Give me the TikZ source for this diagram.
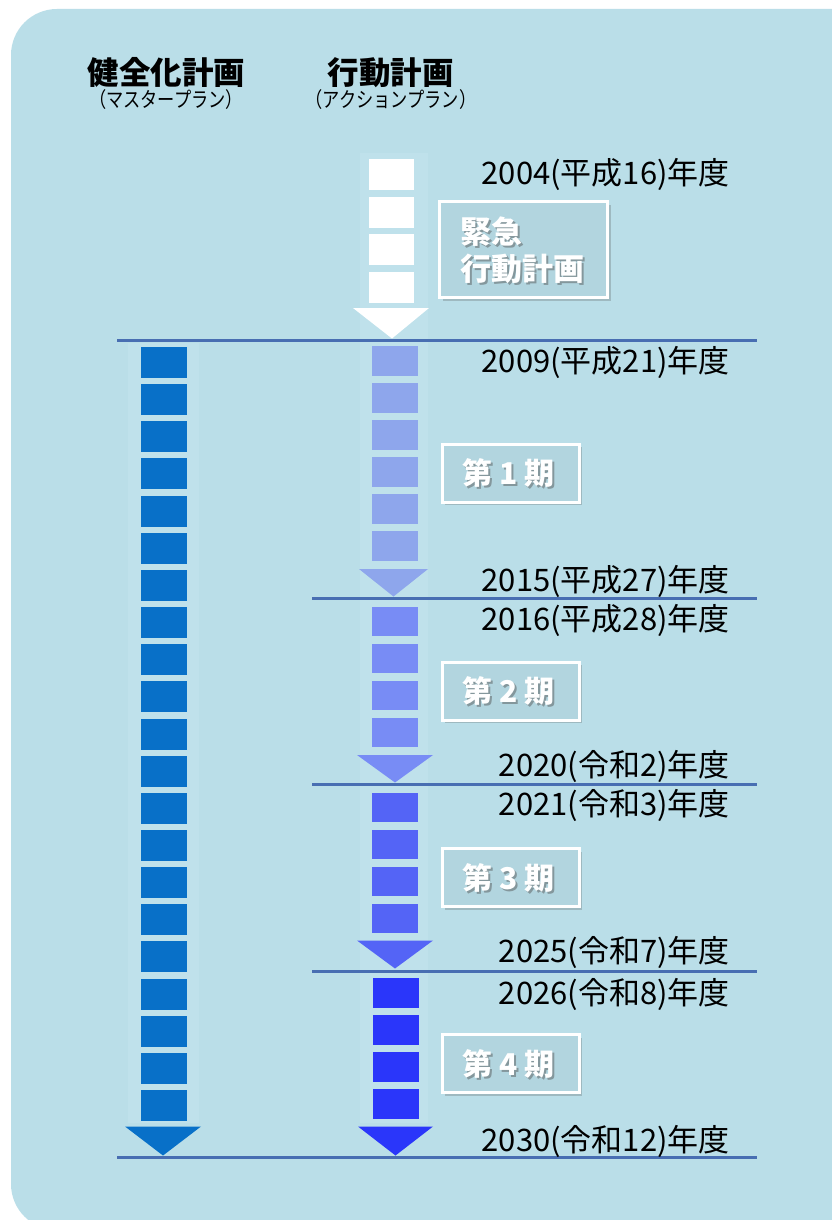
\documentclass[tikz,border=0pt]{standalone}
\usepackage{fontspec}
\newfontfamily\jp{Noto Sans CJK JP}
\usetikzlibrary{shadows}
\definecolor{bgblue}{RGB}{186,222,232}
\definecolor{glow}{RGB}{196,229,238}
\definecolor{mblue}{RGB}{8,112,200}
\definecolor{ph1}{RGB}{142,166,236}
\definecolor{ph2}{RGB}{120,140,245}
\definecolor{ph3}{RGB}{84,100,246}
\definecolor{ph4}{RGB}{42,54,250}
\definecolor{linecol}{RGB}{72,110,178}
\definecolor{boxfill}{RGB}{178,213,223}
\begin{document}
\begin{tikzpicture}[x=1pt,y=-1pt,
  blk/.style={rectangle,inner sep=0pt,draw=none,minimum width=46pt},
  yearlabel/.style={anchor=east,inner sep=0pt,font=\jp\fontsize{31}{36}\selectfont},
  head/.style={inner sep=0pt,font=\jp\bfseries\fontsize{31.5}{36}\selectfont},
  subhead/.style={inner sep=0pt,font=\jp\fontsize{21}{24}\selectfont},
  phasebox/.style={rectangle,inner sep=0pt,draw=white,line width=3pt,fill=boxfill,
     drop shadow={shadow xshift=3pt,shadow yshift=-3pt,opacity=0.25,fill=black!70}},
  ptext/.style={inner sep=0pt,text=white,font=\jp\bfseries\fontsize{#1}{36}\selectfont},
  ptext/.default=30,
  pshadow/.style={inner sep=0pt,text=black!70,opacity=0.45,font=\jp\bfseries\fontsize{#1}{36}\selectfont},
  pshadow/.default=30,
  sepline/.style={draw=linecol,line width=3pt}]
\useasboundingbox (0,0) rectangle (831,1220);
\fill[white] (0,0) rectangle (831,1220);
\fill[bgblue,rounded corners=46pt] (11,9) rectangle (890,1230);
% glow strips
\fill[glow,opacity=0.5] (128,343) rectangle (199,1123);
\fill[glow,opacity=0.5] (360,153) rectangle (428,1123);
% headers
\node[head] (h1) at (166.5,72.5) {健全化計画};
\node[subhead] (s1) at (166,100) {\scalebox{0.82}[1]{（マスタープラン）}};
\node[head] (h2) at (390.5,72.5) {行動計画};
\node[subhead] (s2) at (391,100) {\scalebox{0.82}[1]{（アクションプラン）}};
% master plan column
\foreach \i in {0,...,20}
  \node[blk,fill=mblue,minimum height=31pt] (m\i) at (163.5,{347+37.15*\i+15.5}) {};
\fill[mblue] (125,1126.5) -- (201,1126.5) -- (163,1155.5) -- cycle;
% emergency plan (white)
\foreach \i/\t in {0/159,1/197,2/234,3/272}
  \node[blk,fill=white,minimum width=45pt,minimum height=31pt] (e\i) at (391.5,\t+15.5) {};
\fill[white] (353,308) -- (429,308) -- (392,338.5) -- cycle;
% phase 1
\foreach \i/\t in {0/346,1/383,2/420,3/457,4/494,5/531}
  \node[blk,fill=ph1,minimum height=30pt] (a\i) at (394.5,\t+15) {};
\fill[ph1] (359,569) -- (428,569) -- (393.5,596.5) -- cycle;
% phase 2
\foreach \i/\t in {0/606.5,1/643.5,2/680.5,3/717.5}
  \node[blk,fill=ph2,minimum height=29.5pt] (b\i) at (394.5,\t+14.75) {};
\fill[ph2] (357,755) -- (433,755) -- (395,782.5) -- cycle;
% phase 3
\foreach \i/\t in {0/792.5,1/829.5,2/866.5,3/903.5}
  \node[blk,fill=ph3,minimum height=29.5pt] (c\i) at (395,\t+14.75) {};
\fill[ph3] (357,940.5) -- (433,940.5) -- (395,968.5) -- cycle;
% phase 4
\foreach \i/\t in {0/978,1/1015,2/1052,3/1089}
  \node[blk,fill=ph4,minimum height=29.5pt] (d\i) at (395.5,\t+14.75) {};
\fill[ph4] (358,1126.5) -- (433,1126.5) -- (395.5,1155.5) -- cycle;
% separator lines
\coordinate (l0a) at (117,340); \coordinate (l0b) at (757,340);
\coordinate (l1a) at (312,598); \coordinate (l1b) at (757,598);
\coordinate (l2a) at (312,784.5); \coordinate (l2b) at (757,784.5);
\coordinate (l3a) at (312,971); \coordinate (l3b) at (757,971);
\coordinate (l4a) at (117,1157); \coordinate (l4b) at (757,1157);
\draw[sepline] (l0a) -- (l0b);
\draw[sepline] (l1a) -- (l1b);
\draw[sepline] (l2a) -- (l2b);
\draw[sepline] (l3a) -- (l3b);
\draw[sepline] (l4a) -- (l4b);
% year labels
\node[yearlabel] (y2004) at (730,174) {2004(平成16)年度};
\node[yearlabel] (y2009) at (730,362) {2009(平成21)年度};
\node[yearlabel] (y2015) at (730,581) {2015(平成27)年度};
\node[yearlabel] (y2016) at (730,620) {2016(平成28)年度};
\node[yearlabel] (y2020) at (730,766) {2020(令和2)年度};
\node[yearlabel] (y2021) at (730,805) {2021(令和3)年度};
\node[yearlabel] (y2025) at (730,952) {2025(令和7)年度};
\node[yearlabel] (y2026) at (730,994) {2026(令和8)年度};
\node[yearlabel] (y2030) at (730,1141) {2030(令和12)年度};
% phase boxes
\node[phasebox,minimum width=168pt,minimum height=96pt] (pe) at (523.5,249.5) {};
\node[pshadow=31,anchor=west] at (462,234) {緊急};
\node[ptext=31,anchor=west] (pe1) at (460,232) {緊急};
\node[pshadow=31,anchor=west] at (462,271) {行動計画};
\node[ptext=31,anchor=west] (pe2) at (460,269) {行動計画};
\foreach \n/\y/\lab in {p1/473/1,p2/691/2,p3/877.5/3,p4/1063.5/4}{
  \node[phasebox,minimum width=137pt,minimum height=58pt] (\n) at (510.5,\y) {};
  \node[pshadow] at (510.5,\y+2) {第 \lab\ 期};
  \node[ptext] (\n t) at (508.5,\y) {第 \lab\ 期};
}
\end{tikzpicture}
\end{document}
